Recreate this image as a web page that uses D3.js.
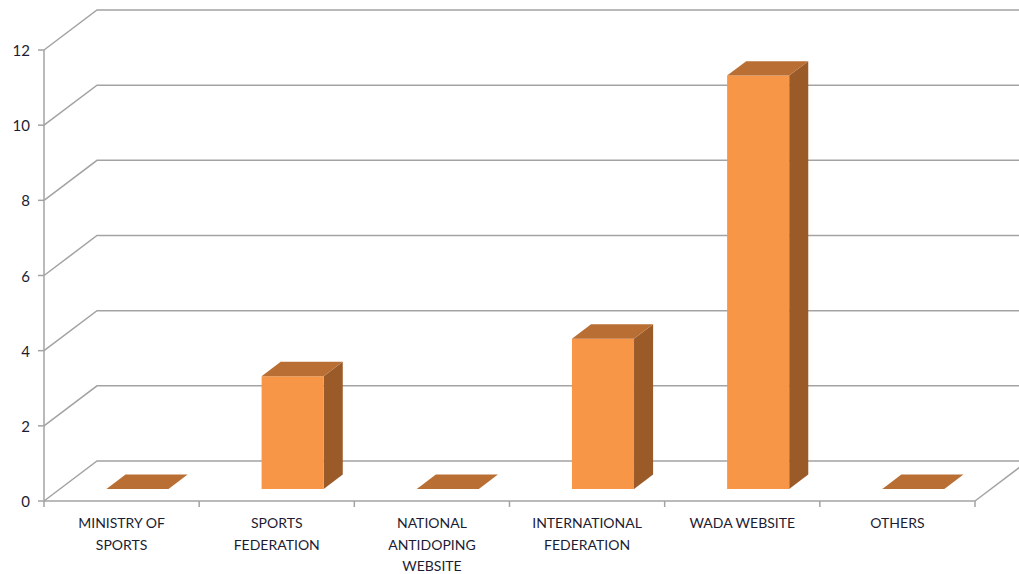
<!DOCTYPE html>
<html>
<head>
<meta charset="utf-8">
<script src="https://cdn.jsdelivr.net/npm/d3@7"></script>
<style>
  html, body { margin: 0; padding: 0; background: #fff; }
  svg { display: block; }
  text { font-family: Lato, "Open Sans", sans-serif; fill: #1c1c33; }
</style>
</head>
<body>
<svg id="chart" width="1019" height="574"></svg>
<script>
// Information sources and number of responses
const categories = [
  ["MINISTRY OF", "SPORTS"],
  ["SPORTS", "FEDERATION"],
  ["NATIONAL", "ANTIDOPING", "WEBSITE"],
  ["INTERNATIONAL", "FEDERATION"],
  ["WADA WEBSITE"],
  ["OTHERS"]
];
const values = [0, 3, 0, 4, 11, 0];
const yTicks = [0, 2, 4, 6, 8, 10, 12];

const svg = d3.select("#chart");

// front plane of the 3D plot
const left = 44, right = 975, floorY = 501, topY = 50;
// depth vector (front → back wall)
const DX = 53, DY = -40;

const x = d3.scaleBand()
  .domain(d3.range(categories.length))
  .range([left, right]);

const y = d3.scaleLinear()
  .domain([0, 12])
  .range([floorY, topY]);

const proj = (px, py, d) => [px + DX * d, py + DY * d];

const gridColor = "#a3a3a3";
const grid = svg.append("g");

// gridlines: diagonal on the side wall, then along the back wall
yTicks.forEach(v => {
  const p0 = [left, y(v)];
  const p1 = proj(left, y(v), 1);
  const p2 = proj(right, y(v), 1);
  grid.append("polyline")
    .attr("points", [p0, p1, p2].map(p => p.join(",")).join(" "))
    .attr("fill", "none")
    .attr("stroke", gridColor)
    .attr("stroke-width", 1.5);
});

// floor right edge
grid.append("line")
  .attr("x1", right).attr("y1", floorY)
  .attr("x2", proj(right, floorY, 1)[0]).attr("y2", proj(right, floorY, 1)[1])
  .attr("stroke", gridColor).attr("stroke-width", 1.5);

// value axis
const axisG = svg.append("g");
axisG.append("line")
  .attr("x1", left).attr("x2", left)
  .attr("y1", y(12)).attr("y2", floorY)
  .attr("stroke", gridColor).attr("stroke-width", 1.5);

yTicks.forEach(v => {
  axisG.append("line")
    .attr("x1", left - 6).attr("x2", left)
    .attr("y1", y(v)).attr("y2", y(v))
    .attr("stroke", gridColor).attr("stroke-width", 1.5);
  axisG.append("text")
    .attr("x", 30).attr("y", y(v))
    .attr("text-anchor", "end")
    .attr("dominant-baseline", "central")
    .attr("font-size", 15)
    .text(v);
});

// category axis
axisG.append("line")
  .attr("x1", left).attr("x2", right)
  .attr("y1", floorY).attr("y2", floorY)
  .attr("stroke", gridColor).attr("stroke-width", 1.5);

d3.range(categories.length + 1).forEach(i => {
  const tx = i < categories.length ? x(i) : right;
  axisG.append("line")
    .attr("x1", tx).attr("x2", tx)
    .attr("y1", floorY).attr("y2", floorY + 6)
    .attr("stroke", gridColor).attr("stroke-width", 1.5);
});

categories.forEach((lines, i) => {
  const t = axisG.append("text")
    .attr("x", x(i) + x.bandwidth() / 2)
    .attr("y", 528)
    .attr("text-anchor", "middle")
    .attr("font-size", 14);
  lines.forEach((ln, k) => {
    t.append("tspan")
      .attr("x", x(i) + x.bandwidth() / 2)
      .attr("dy", k === 0 ? 0 : 21.5)
      .text(ln);
  });
});

// 3D columns
const d0 = 0.3, d1 = 0.66;
const barFrac = 0.4;
const colFront = "#f79646", colTop = "#b96f34", colSide = "#9b5b29";

const bars = svg.append("g");
const pts = arr => arr.map(p => p.join(",")).join(" ");

values.forEach((v, i) => {
  const bw = x.bandwidth() * barFrac;
  const bx0 = x(i) + (x.bandwidth() - bw) / 2;
  const bx1 = bx0 + bw;
  const yb = y(0), yt = y(v);

  const fBL = proj(bx0, yb, d0), fBR = proj(bx1, yb, d0);
  const fTL = proj(bx0, yt, d0), fTR = proj(bx1, yt, d0);
  const bTL = proj(bx0, yt, d1), bTR = proj(bx1, yt, d1);
  const bBR = proj(bx1, yb, d1);

  if (v > 0) {
    bars.append("polygon")
      .attr("points", pts([fBR, fTR, bTR, bBR]))
      .attr("fill", colSide);
    bars.append("polygon")
      .attr("points", pts([fBL, fBR, fTR, fTL]))
      .attr("fill", colFront);
  }
  bars.append("polygon")
    .attr("points", pts([fTL, fTR, bTR, bTL]))
    .attr("fill", colTop);
});
</script>
</body>
</html>
